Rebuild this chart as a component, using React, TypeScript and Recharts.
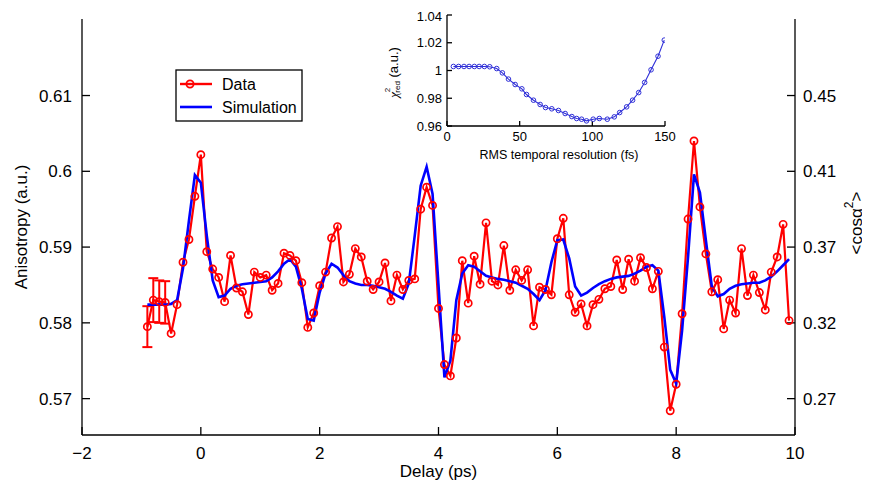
import React from 'react';
import { LineChart, Line, XAxis, YAxis, ErrorBar } from 'recharts';

// ---------- main data ----------
const delay = [
  -0.9, -0.8, -0.7, -0.6, -0.5, -0.4, -0.3, -0.2, -0.1,
  0.0, 0.1, 0.2, 0.3, 0.4, 0.5, 0.6, 0.7, 0.8, 0.9,
  1.0, 1.1, 1.2, 1.3, 1.4, 1.5, 1.6, 1.7, 1.8, 1.9,
  2.0, 2.1, 2.2, 2.3, 2.4, 2.5, 2.6, 2.7, 2.8, 2.9,
  3.0, 3.1, 3.2, 3.3, 3.4, 3.5, 3.6, 3.7, 3.8, 3.9,
  4.0, 4.1, 4.2, 4.3, 4.4, 4.5, 4.6, 4.7, 4.8, 4.9,
  5.0, 5.1, 5.2, 5.3, 5.4, 5.5, 5.6, 5.7, 5.8, 5.9,
  6.0, 6.1, 6.2, 6.3, 6.4, 6.5, 6.6, 6.7, 6.8, 6.9,
  7.0, 7.1, 7.2, 7.3, 7.4, 7.5, 7.6, 7.7, 7.8, 7.9,
  8.0, 8.1, 8.2, 8.3, 8.4, 8.5, 8.6, 8.7, 8.8, 8.9,
  9.0, 9.1, 9.2, 9.3, 9.4, 9.5, 9.6, 9.7, 9.8, 9.9,
];

const anisotropy = [
  0.5795, 0.5830, 0.5828, 0.5827, 0.5786, 0.5824, 0.5880, 0.5910, 0.5967,
  0.6022, 0.5894, 0.5871, 0.5860, 0.5828, 0.5889, 0.5846, 0.5841, 0.5811, 0.5867,
  0.5860, 0.5863, 0.5843, 0.5852, 0.5892, 0.5889, 0.5882, 0.5853, 0.5794, 0.5813,
  0.5849, 0.5867, 0.5912, 0.5927, 0.5854, 0.5864, 0.5898, 0.5887, 0.5855, 0.5844,
  0.5854, 0.5879, 0.5829, 0.5863, 0.5844, 0.5856, 0.5858, 0.5950, 0.5979, 0.5955,
  0.5819, 0.5745, 0.5730, 0.5780, 0.5882, 0.5826, 0.5888, 0.5851, 0.5932, 0.5855,
  0.5850, 0.5902, 0.5843, 0.5870, 0.5856, 0.5870, 0.5796, 0.5847, 0.5844, 0.5837,
  0.5911, 0.5938, 0.5837, 0.5814, 0.5825, 0.5796, 0.5824, 0.5831, 0.5845, 0.5848,
  0.5883, 0.5844, 0.5884, 0.5855, 0.5886, 0.5873, 0.5845, 0.5868, 0.5768, 0.5684,
  0.5719, 0.5812, 0.5937, 0.6040, 0.5953, 0.5891, 0.5841, 0.5857, 0.5792, 0.5830,
  0.5813, 0.5898, 0.5836, 0.5863, 0.5840, 0.5817, 0.5867, 0.5887, 0.5930, 0.5803,
];

const simulation = [
  0.5824, 0.5824, 0.5824, 0.5824, 0.5825, 0.5830, 0.5872, 0.5935, 0.5995,
  0.5985, 0.5915, 0.5856, 0.5834, 0.5836, 0.5845, 0.5849, 0.5851, 0.5852, 0.5853,
  0.5854, 0.5855, 0.5860, 0.5868, 0.5878, 0.5884, 0.5874, 0.5845, 0.5805, 0.5803,
  0.5840, 0.5865, 0.5878, 0.5873, 0.5863, 0.5855, 0.5852, 0.5850, 0.5850, 0.5849,
  0.5847, 0.5845, 0.5841, 0.5836, 0.5832, 0.5852, 0.5915, 0.5981, 0.6006, 0.5970,
  0.5850, 0.5728, 0.5750, 0.5830, 0.5865, 0.5876, 0.5874, 0.5868, 0.5862, 0.5860,
  0.5858, 0.5857, 0.5855, 0.5853, 0.5849, 0.5845, 0.5838, 0.5830, 0.5843, 0.5880,
  0.5909, 0.5910, 0.5885, 0.5848, 0.5836, 0.5840, 0.5846, 0.5851, 0.5855, 0.5858,
  0.5860, 0.5861, 0.5862, 0.5865, 0.5869, 0.5874, 0.5876, 0.5869, 0.5808, 0.5738,
  0.5720, 0.5790, 0.5887, 0.5996, 0.5972, 0.5909, 0.5848, 0.5835, 0.5838, 0.5845,
  0.5849, 0.5851, 0.5852, 0.5853, 0.5853, 0.5856, 0.5861, 0.5868, 0.5876, 0.5884,
];

const errorValues = [0.0027, 0.0029, 0.0028, 0.0028];

const xTicks = [-2, 0, 2, 4, 6, 8, 10];
const yTicks = [0.57, 0.58, 0.59, 0.6, 0.61];
const rightTickLabels = ['0.27', '0.32', '0.37', '0.41', '0.45'];

// ---------- inset data ----------
const resolution = [
  4.4, 8.0, 11.7, 15.2, 18.8, 22.1, 25.7, 29.4, 34.2, 38.1, 42.3, 46.9,
  51.5, 54.7, 59.5, 64.1, 67.8, 72.1, 76.7, 81.3, 85.9, 89.2, 92.6, 96.0,
  100.6, 104.8, 110.3, 115.1, 118.8, 123.6, 127.7, 131.9, 136.0, 140.4, 145.2, 149.5,
];
const chi2 = [
  1.0029, 1.0029, 1.0029, 1.0029, 1.0029, 1.0029, 1.0029, 1.0027, 1.0014, 0.9983, 0.9938, 0.9899,
  0.9868, 0.9827, 0.9786, 0.9755, 0.9733, 0.9724, 0.9712, 0.9690, 0.9668, 0.9654, 0.9649, 0.9637,
  0.9649, 0.9654, 0.9649, 0.9666, 0.9697, 0.9738, 0.9786, 0.9841, 0.9914, 1.0005, 1.0103, 1.0219,
];
const insetXTicks = [0, 50, 100, 150];
const insetYTicks = [0.96, 0.98, 1, 1.02, 1.04];

const FONT = '"Liberation Sans", Arial, Helvetica, sans-serif';
const RED = '#ff0000';
const BLUE = '#0000ff';
const INSET_BLUE = '#2f2fd8';

const rows = delay.map((t, i) => ({
  t,
  a: anisotropy[i],
  s: simulation[i],
  err: i < errorValues.length ? errorValues[i] : undefined,
}));

const insetRows = resolution.map((r, i) => ({ r, c: chi2[i] }));

const fmtX = (v: number) => (v < 0 ? `\u2212${-v}` : `${v}`);
const fmtRight = (v: number) => {
  const idx = yTicks.findIndex((t) => Math.abs(t - v) < 1e-6);
  return idx >= 0 ? rightTickLabels[idx] : '';
};

const vb = (p: any, d: any) => (p && p.viewBox ? p.viewBox : d);

function LeftTitle(props: any) {
  const v = vb(props, { x: 0, y: 11, width: 74, height: 416 });
  const x = v.x + 13;
  const y = v.y + v.height / 2;
  return (
    <text x={x} y={y} transform={`rotate(-90 ${x} ${y})`} textAnchor="middle" dominantBaseline="central"
      fontSize={17} fill="#000" fontFamily={FONT}>
      Anisotropy (a.u.)
    </text>
  );
}

function RightTitle(props: any) {
  const v = vb(props, { x: 787, y: 11, width: 75, height: 416 });
  const x = v.x + 61;
  const y = v.y + v.height / 2 - 4;
  return (
    <text x={x} y={y} transform={`rotate(-90 ${x} ${y})`} textAnchor="middle" dominantBaseline="central"
      fontSize={17} fill="#000" fontFamily={FONT}>
      {'<cos\u03b1'}
      <tspan dy={-7} fontSize={12}>2</tspan>
      <tspan dy={7}>{'>'}</tspan>
    </text>
  );
}

function BottomTitle(props: any) {
  const v = vb(props, { x: 74, y: 427, width: 713, height: 54 });
  const x = v.x + v.width / 2;
  const y = v.y + 36;
  return (
    <text x={x} y={y} textAnchor="middle" dominantBaseline="central" fontSize={17} fill="#000" fontFamily={FONT}>
      Delay (ps)
    </text>
  );
}

function InsetXTitle(props: any) {
  const v = vb(props, { x: 72, y: 118, width: 218, height: 47 });
  const x = v.x + v.width / 2 + 3;
  const y = v.y + 29;
  return (
    <text x={x} y={y} textAnchor="middle" dominantBaseline="central" fontSize={12.5} fill="#000" fontFamily={FONT}>
      RMS temporal resolution (fs)
    </text>
  );
}

function InsetYTitle(props: any) {
  const v = vb(props, { x: 0, y: 7, width: 72, height: 111 });
  const x = v.x + 18;
  const y = v.y + v.height / 2 + 2;
  return (
    <text x={x} y={y} transform={`rotate(-90 ${x} ${y})`} textAnchor="middle" dominantBaseline="central"
      fontSize={13} fill="#000" fontFamily={FONT}>
      <tspan fontStyle="italic" fontFamily="serif">{'\u03c7'}</tspan>
      <tspan dy={-6} fontSize={8}>2</tspan>
      <tspan dx={-5} dy={10} fontSize={8}>red</tspan>
      <tspan dy={-4}>{' (a.u.)'}</tspan>
    </text>
  );
}

const axisStyle = { stroke: '#000', strokeWidth: 1.3 };

function LegendBox() {
  return (
    <svg width={128} height={53} style={{ position: 'absolute', left: 167, top: 61, overflow: 'visible' }}>
      <rect x={1} y={1} width={126} height={51} fill="#fff" stroke="#000" strokeWidth={1.3} />
      <line x1={5} y1={15} x2={37} y2={15} stroke={RED} strokeWidth={2.4} />
      <circle cx={15} cy={15} r={3.6} fill="none" stroke={RED} strokeWidth={1.8} />
      <text x={47} y={15} dominantBaseline="central" fontSize={16} fill="#000" fontFamily={FONT}>Data</text>
      <line x1={5} y1={38} x2={37} y2={38} stroke={BLUE} strokeWidth={2.6} />
      <text x={47} y={38} dominantBaseline="central" fontSize={16} fill="#000" fontFamily={FONT}>Simulation</text>
    </svg>
  );
}

function Inset() {
  return (
    <div style={{ position: 'absolute', left: 367, top: 0, width: 310, height: 165 }}>
      <LineChart width={310} height={165} data={insetRows} margin={{ top: 7, right: 20, bottom: 0, left: 0 }}>
        <XAxis dataKey="r" type="number" domain={[0, 150]} ticks={insetXTicks} allowDataOverflow
          height={47} tickSize={-5} tickMargin={11} axisLine={axisStyle} tickLine={axisStyle}
          tick={{ fill: '#000', fontSize: 13, fontFamily: FONT }} label={<InsetXTitle />} />
        <XAxis xAxisId="top" orientation="top" type="number" domain={[0, 150]} ticks={insetXTicks} allowDataOverflow
          height={0} tickSize={-5} tick={false} axisLine={axisStyle} tickLine={axisStyle} />
        <YAxis yAxisId="l" type="number" domain={[0.96, 1.04]} ticks={insetYTicks} allowDataOverflow
          width={72} tickSize={-5} tickMargin={10} axisLine={axisStyle} tickLine={axisStyle}
          tick={{ fill: '#000', fontSize: 13, fontFamily: FONT }} label={<InsetYTitle />} />
        <YAxis yAxisId="r" orientation="right" type="number" domain={[0.96, 1.04]} ticks={insetYTicks} allowDataOverflow
          width={0} tickSize={-5} tick={false} axisLine={axisStyle} tickLine={axisStyle} />
        <Line yAxisId="l" dataKey="c" stroke={INSET_BLUE} strokeWidth={1.1} isAnimationActive={false}
          dot={{ r: 2.3, stroke: INSET_BLUE, strokeWidth: 1, fill: 'none' }} />
      </LineChart>
    </div>
  );
}

export default function App() {
  return (
    <div style={{ position: 'relative', width: 862, height: 481, fontFamily: FONT, background: '#fff' }}>
      <LineChart width={862} height={481} data={rows} margin={{ top: 11, right: 0, bottom: 0, left: 0 }}>
        <XAxis dataKey="t" type="number" domain={[-2, 10]} ticks={xTicks} allowDataOverflow
          tickFormatter={fmtX} height={54} tickSize={-8} tickMargin={20}
          axisLine={axisStyle} tickLine={axisStyle}
          tick={{ fill: '#000', fontSize: 17, fontFamily: FONT }} label={<BottomTitle />} />
        <XAxis xAxisId="top" orientation="top" type="number" domain={[-2, 10]} ticks={xTicks} allowDataOverflow
          height={0} tickSize={-8} tick={false} axisLine={axisStyle} tickLine={axisStyle} />
        <YAxis yAxisId="left" type="number" domain={[0.5652, 0.6201]} ticks={yTicks} allowDataOverflow
          width={74} tickSize={-8} tickMargin={18} axisLine={axisStyle} tickLine={axisStyle}
          tick={{ fill: '#000', fontSize: 17, fontFamily: FONT }} label={<LeftTitle />} />
        <YAxis yAxisId="right" orientation="right" type="number" domain={[0.5652, 0.6201]} ticks={yTicks} allowDataOverflow
          width={75} tickSize={-8} tickMargin={16} tickFormatter={fmtRight}
          axisLine={axisStyle} tickLine={axisStyle}
          tick={{ fill: '#000', fontSize: 17, fontFamily: FONT }} label={<RightTitle />} />
        <Line yAxisId="left" dataKey="a" stroke={RED} strokeWidth={2.2} isAnimationActive={false}
          dot={{ r: 3.6, stroke: RED, strokeWidth: 1.7, fill: 'none' }}>
          <ErrorBar dataKey="err" width={5} stroke={RED} strokeWidth={2} direction="y" isAnimationActive={false} />
        </Line>
        <Line yAxisId="left" dataKey="s" stroke={BLUE} strokeWidth={2.6} dot={false} isAnimationActive={false} />
      </LineChart>
      <LegendBox />
      <Inset />
    </div>
  );
}
